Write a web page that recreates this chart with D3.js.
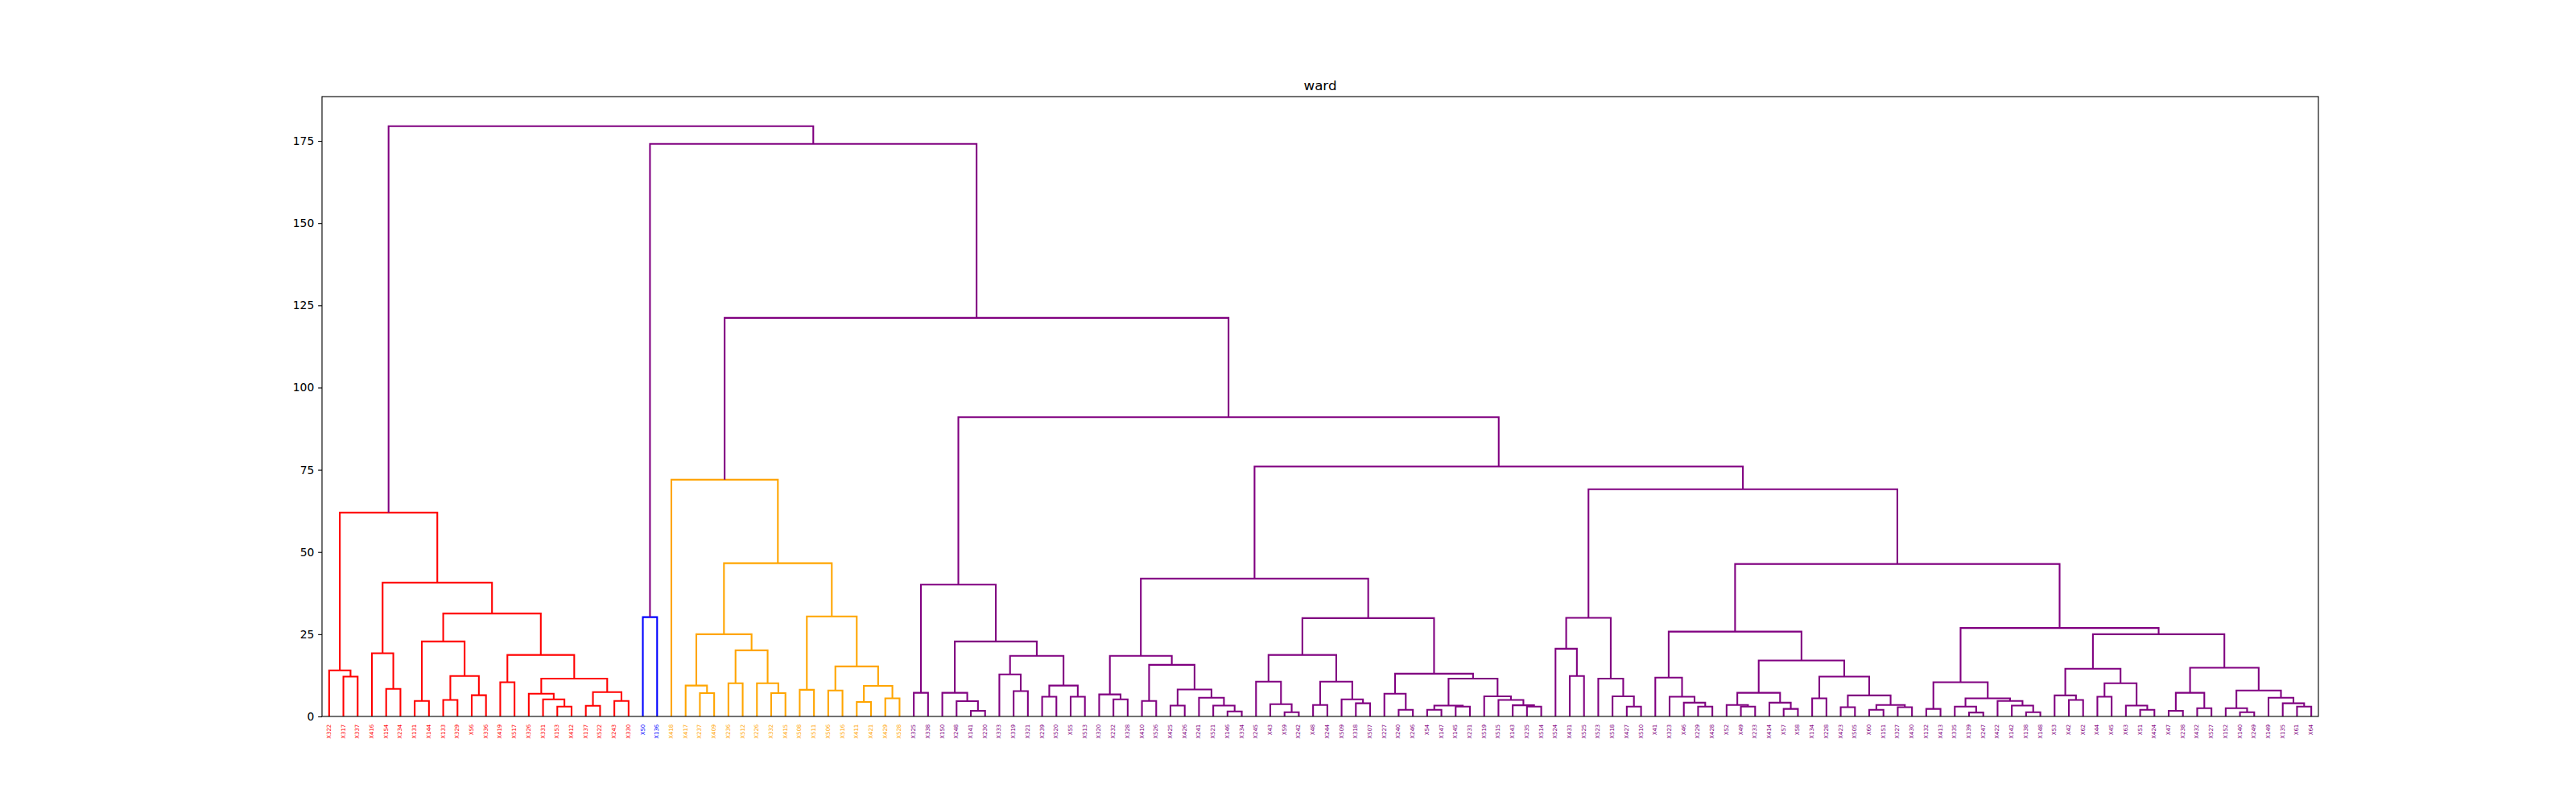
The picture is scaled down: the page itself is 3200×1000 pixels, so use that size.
<!DOCTYPE html>
<html><head><meta charset="utf-8">
<script src="https://cdn.jsdelivr.net/npm/d3@7"></script>
<style>body{margin:0;background:#fff}</style>
</head><body><svg id="chart" width="3200" height="1000"></svg>
<script>
// ---- DATA ----
const title = "ward";
const leaves = [
 "X322","X317","X337","X416","X154","X234","X131","X144","X133","X329","X56","X336","X419","X517","X326","X331","X153","X412","X137","X522","X243","X330",
 "X50","X136",
 "X418","X417","X237","X409","X236","X512","X226","X332","X415","X508","X511","X506","X516","X411","X421","X429","X528",
 "X325","X338","X150","X248","X141","X230",
 "X333","X319","X321","X239","X520","X55","X513","X320","X232","X328","X410","X526","X425","X426","X241","X521","X146","X334","X245","X43","X59","X242","X48",
 "X244","X509","X318","X507","X227","X240","X246","X54","X147","X145","X231","X519","X515","X143","X235","X514","X524","X431","X525","X523","X518","X427","X510","X41",
 "X323","X46","X229","X428","X52","X49","X233","X414","X57","X58","X134","X228","X423","X505","X60","X151","X327","X430","X132","X413","X335","X139","X247",
 "X422","X142","X138","X148","X53","X42","X62","X44","X45","X63","X51","X424","X47","X238","X432","X527","X152","X140","X249","X149","X135","X61","X64"
];
// merges: [node id, left child, right child, merge height]
const redMerges = [
 ["r1","X317","X337",12.1],["r2","X322","r1",14.0],["r3","X154","X234",8.4],["r4","X416","r3",19.2],
 ["r5","X131","X144",4.7],["r6","X133","X329",5.0],["r7","X56","X336",6.45],["r8","r6","r7",12.3],
 ["r9","r5","r8",22.8],["r10","X419","X517",10.4],["r11","X153","X412",3.0],["r12","X331","r11",5.2],
 ["r13","X326","r12",6.9],["r14","X137","X522",3.25],["r15","X243","X330",4.7],["r16","r14","r15",7.4],
 ["r17","r13","r16",11.5],["r18","r10","r17",18.7],["r19","r9","r18",31.3],["r20","r4","r19",40.7],
 ["r21","r2","r20",62.0]
];
const blueMerges = [["b1","X50","X136",30.2]];
const orangeMerges = [
 ["o1","X237","X409",7.1],["o2","X417","o1",9.4],["o3","X236","X512",10.1],["o4","X332","X415",7.1],
 ["o5","X226","o4",10.1],["o6","o3","o5",20.1],["o7","o2","o6",25.0],["o8","X508","X511",8.1],
 ["o9","X506","X516",7.9],["o10","X411","X421",4.4],["o11","X429","X528",5.5],["o12","o10","o11",9.3],
 ["o13","o9","o12",15.2],["o14","o8","o13",30.4],["o15","o7","o14",46.6],["o16","X418","o15",72.0]
];
const purpleMerges = [
 ["p1","X325","X338",7.2],["p2","X141","X230",1.7],["p3","X248","p2",4.65],["p4","X150","p3",7.2],
 ["p5","X319","X321",7.7],["p6","X333","p5",12.8],["p7","X239","X520",6.0],["p8","X55","X513",6.0],
 ["p9","p7","p8",9.4],["p10","p6","p9",18.4],["p11","p4","p10",22.8],["p12","p1","p11",40.1],
 ["p13","X232","X328",5.2],["p14","X320","p13",6.7],["p15","X410","X526",4.7],["p16","X425","X426",3.3],
 ["p17","X146","X334",1.55],["p18","X521","p17",3.3],["p19","X241","p18",5.7],["p20","p16","p19",8.2],
 ["p21","p15","p20",15.7],["p22","p14","p21",18.4],["p23","X59","X242",1.3],["p24","X43","p23",3.75],
 ["p25","X245","p24",10.6],["p26","X48","X244",3.5],["p27","X318","X507",4.0],["p28","X509","p27",5.2],
 ["p29","p26","p28",10.6],["p30","p25","p29",18.7],["p31","X240","X246",2.0],["p32","X227","p31",6.9],
 ["p33","X54","X147",2.0],["p34","X145","X231",3.0],["p35","p33","p34",3.3],["p36","X235","X514",3.0],
 ["p37","X143","p36",3.4],["p38","X515","p37",5.0],["p39","X519","p38",6.1],["p40","p35","p39",11.5],
 ["p41","p32","p40",13.0],["p42","p30","p41",29.9],["p43","p22","p42",41.9],
 ["p44","X431","X525",12.3],["p45","X524","p44",20.6],["p46","X427","X510",3.0],["p47","X518","p46",6.1],
 ["p48","X523","p47",11.5],["p49","p45","p48",30.0],
 ["p50","X229","X428",3.0],["p51","X46","p50",4.2],["p52","X323","p51",6.0],["p53","X41","p52",11.8],
 ["p54","X49","X233",3.0],["p55","X52","p54",3.5],["p56","X57","X58",2.3],["p57","X414","p56",4.2],
 ["p58","p55","p57",7.2],["p59","X134","X228",5.5],["p60","X423","X505",2.8],["p61","X60","X151",2.0],
 ["p62","X327","X430",2.8],["p63","p61","p62",3.5],["p64","p60","p63",6.4],["p65","p59","p64",12.1],
 ["p66","p58","p65",17.0],["p67","p53","p66",25.8],
 ["p68","X132","X413",2.3],["p69","X139","X247",1.2],["p70","X335","p69",3.0],["p71","X138","X148",1.3],
 ["p72","X142","p71",3.3],["p73","X422","p72",4.7],["p74","p70","p73",5.5],["p75","p68","p74",10.4],
 ["p76","X42","X62",5.0],["p77","X53","p76",6.4],["p78","X44","X45",6.0],["p79","X51","X424",2.0],
 ["p80","X63","p79",3.3],["p81","p78","p80",10.1],["p82","p77","p81",14.5],["p83","X47","X238",1.7],
 ["p84","X432","X527",2.5],["p85","p83","p84",7.2],["p86","X140","X249",1.3],["p87","X152","p86",2.5],
 ["p88","X61","X64",3.0],["p89","X135","p88",4.0],["p90","X149","p89",5.7],["p91","p87","p90",7.9],
 ["p92","p85","p91",14.8],["p93","p82","p92",25.0],["p94","p75","p93",26.9],["p95","p67","p94",46.35],
 ["p96","p49","p95",69.1],["p97","p43","p96",76.0],["p98","p12","p97",91.0]
];
const topMerges = [["t1","o16","p98",121.2],["t2","b1","t1",174.1],["t3","r21","t2",179.5]];
const clusterRoots = ["r21","b1","o16","p12","p97"];
const clusterColors = ["#ff0000","#0000ff","#ffa500","#800080","#800080"];
const aboveColor = "#800080";
const yTicks = [0,25,50,75,100,125,150,175];

// ---- LAYOUT ----
const W = 3200, H = 1000;
const ax = {left:400, right:2880, top:120, bottom:890};
const pt = 100/72;
const svg = d3.select("#chart");
svg.append("rect").attr("width",W).attr("height",H).attr("fill","#fff");

const merges = [...redMerges, ...blueMerges, ...orangeMerges, ...purpleMerges, ...topMerges];
const maxH = d3.max(merges, d => d[3]);
const x = d3.scaleLinear().domain([0, leaves.length*10]).range([ax.left, ax.right]);
const y = d3.scaleLinear().domain([0, maxH*1.05]).range([ax.bottom, ax.top]);

const nodes = new Map();
leaves.forEach((l,i) => nodes.set(l, {id:l, leaf:true, pos: i*10+5, h:0}));
merges.forEach(([id,a,b,h]) => {
  const A = nodes.get(a), B = nodes.get(b);
  nodes.set(id, {id, left:A, right:B, h, pos:(A.pos+B.pos)/2});
});
const colorOf = new Map(clusterRoots.map((r,i)=>[r, clusterColors[i]]));
const root = nodes.get(merges[merges.length-1][0]);
(function assign(n, c){
  if (colorOf.has(n.id)) c = colorOf.get(n.id);
  n.color = c;
  if (!n.leaf){ assign(n.left, c); assign(n.right, c); }
})(root, aboveColor);

// links
const g = svg.append("g");
merges.forEach(([id]) => {
  const n = nodes.get(id);
  const p = d3.path();
  p.moveTo(x(n.left.pos), y(n.left.h));
  p.lineTo(x(n.left.pos), y(n.h));
  p.lineTo(x(n.right.pos), y(n.h));
  p.lineTo(x(n.right.pos), y(n.right.h));
  g.append("path").attr("d", p.toString()).attr("fill","none")
   .attr("stroke", n.color).attr("stroke-width", 1.5*pt).attr("stroke-linejoin","miter");
});

// y axis
const yAxis = d3.axisLeft(y).tickValues(yTicks).tickSize(3.5*pt).tickPadding(3.5*pt).tickFormat(d3.format("d"));
const yg = svg.append("g").attr("transform",`translate(${ax.left},0)`).call(yAxis);
yg.select(".domain").remove();
yg.selectAll("line").attr("stroke","#000").attr("stroke-width",0.8*pt);
yg.selectAll("text").attr("font-family","DejaVu Sans").attr("font-size",10*pt).attr("fill","#000");

// leaf labels
svg.append("g").selectAll("text").data(leaves).join("text")
  .attr("transform",(d,i)=>`translate(${x(i*10+5)},${ax.bottom+7*pt}) rotate(-90)`)
  .attr("text-anchor","end").attr("dominant-baseline","central")
  .attr("font-family","DejaVu Sans").attr("font-size",5*pt)
  .attr("fill", d => nodes.get(d).color)
  .text(d=>d);

// frame
svg.append("rect").attr("x",ax.left).attr("y",ax.top)
  .attr("width",ax.right-ax.left).attr("height",ax.bottom-ax.top)
  .attr("fill","none").attr("stroke","#000").attr("stroke-width",0.8*pt);

// title
svg.append("text").attr("x",(ax.left+ax.right)/2).attr("y",ax.top-6*pt)
  .attr("text-anchor","middle").attr("font-family","DejaVu Sans").attr("font-size",12*pt)
  .attr("fill","#000").text(title);
</script></body></html>
